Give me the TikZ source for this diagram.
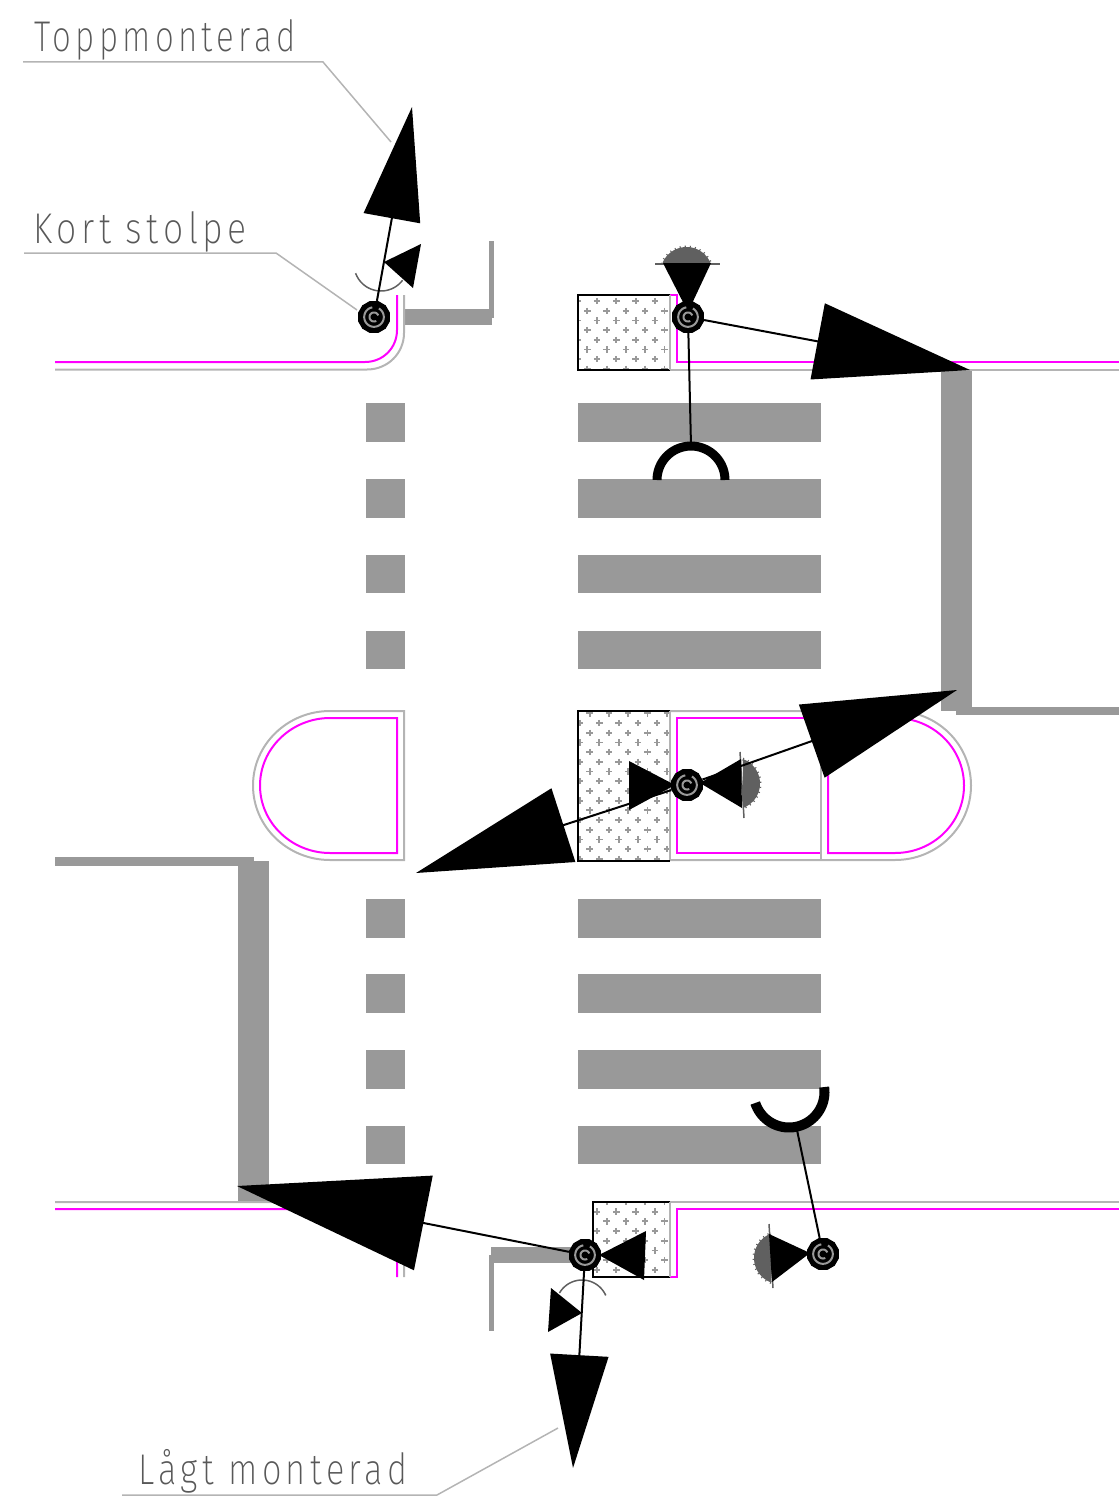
\documentclass[tikz,border=0pt]{standalone}
\usepackage{fontspec}
\setmainfont{Fira Sans ExtraLight}[LetterSpace=13]
\usetikzlibrary{arrows.meta,shapes.geometric}
\definecolor{curb}{HTML}{B4B4B4}
\definecolor{paint}{HTML}{999999}
\definecolor{hood}{HTML}{606060}
\definecolor{mag}{HTML}{FF00FF}
\definecolor{lbl}{HTML}{585858}
\tikzset{
  curbline/.style={draw=curb,line width=2pt},
  magline/.style={draw=mag,line width=2pt},
  leader/.style={draw=curb,line width=1.5pt},
  conn/.style={draw=black,line width=2pt},
  bigtip/.style n args={2}{-{Triangle[length=#1pt,width=#2pt]}},
  lampbody/.style={regular polygon,regular polygon sides=12,fill=black,minimum size=33pt,inner sep=0pt},
  labeltext/.style={text=lbl,inner sep=0pt,anchor=base west,font=\fontsize{43pt}{43pt}\selectfont},
  hoodtick/.style={draw=hood,line width=3pt,dash pattern=on 1pt off 4pt},
}
\newcommand{\parc}[6][]{\path[#1] plot[domain=#5:#6,samples=40,smooth] ({#2+#4*cos(\x)},{#3+#4*sin(\x)});}
\newcommand{\lampring}[2]{%
  \parc[draw=paint,line width=2pt]{#1}{#2}{9.8}{-60}{260}
  \parc[draw=paint,line width=2pt]{#1}{#2}{4.5}{60}{340}}
\newcommand{\hatchfill}[6]{%
  \begin{scope}
    \clip (#1,#2) rectangle (#3,#4);
    \foreach \i in {0,...,9} \foreach \j in {-2,...,22} {
      \pgfmathsetmacro{\px}{#5+19.3*(\i-1)+(mod(\j+21,2))*9.65}
      \pgfmathsetmacro{\py}{#6+9.7*(\j-3)}
      \draw[paint,line width=1.8pt] (\px-3.2,\py) -- (\px+3.2,\py) (\px,\py-3.2) -- (\px,\py+3.2);
    }
  \end{scope}
  \draw[black,line width=2pt] (#3,#2) -- (#1,#2) -- (#1,#4) -- (#3,#4);}
\newcommand{\hoodshape}[5]{%
  \parc[fill=hood]{#1}{#2}{#3}{#4}{#5}
  \parc[hoodtick]{#1}{#2}{#3}{#4}{#5}}
\begin{document}
\begin{tikzpicture}[x=1pt,y=-1pt]
\useasboundingbox (0,0) rectangle (1119,1496);
% pedestrian crossing markings
\foreach \ya/\yb in {403/442,479/518,555/593,631/669,899/938,974/1013,1050/1089,1126/1164}{
  \fill[paint] (366,\ya) rectangle (405,\yb);
  \fill[paint] (577.5,\ya) rectangle (821,\yb);
}
% stop lines
\fill[paint] (404,309) rectangle (492,325);
\fill[paint] (489,241) rectangle (494,318);
\fill[paint] (491,1247) rectangle (575,1263);
\fill[paint] (489,1255) rectangle (494,1331);
\fill[paint] (941,370) rectangle (971.5,711);
\fill[paint] (956,706.5) rectangle (1119,714.5);
\fill[paint] (238,861) rectangle (268.5,1202);
\fill[paint] (55,857) rectangle (254,865.5);
% curbs
\draw[curbline] (55,369.5) -- (367,369.5) .. controls (388,369.5) and (404,353) .. (404,333) -- (404,295);
\draw[magline] (55,362) -- (365,362) .. controls (383,362) and (397,348) .. (397,330) -- (397,295);
\draw[curbline] (670,369.5) -- (1119,369.5);
\draw[magline] (670,295) -- (677,295) -- (677,362) -- (1119,362);
\draw[curbline] (404,711) -- (330,711) .. controls (288,711) and (253,744) .. (253,785.5) .. controls (253,827) and (288,860) .. (330,860) -- (404,860) -- cycle;
\draw[magline] (397,718) -- (330,718) .. controls (292,718) and (260,748) .. (260,785.5) .. controls (260,823) and (292,853) .. (330,853) -- (397,853) -- cycle;
\draw[curbline] (670,711) -- (895,711) .. controls (937,711) and (971,744) .. (971,785.5) .. controls (971,827) and (937,860) .. (895,860) -- (670,860);
\draw[curbline] (821,711) -- (821,860);
\draw[magline] (820,718) -- (677,718) -- (677,853) -- (820,853);
\draw[magline] (828,718) -- (895,718) .. controls (933,718) and (964,748) .. (964,785.5) .. controls (964,823) and (933,853) .. (895,853) -- (828,853) -- cycle;
\draw[curbline] (55,1202) -- (367,1202) .. controls (388,1202) and (404,1219) .. (404,1240) -- (404,1277);
\draw[magline] (55,1209) -- (365,1209) .. controls (383,1209) and (397,1223) .. (397,1241) -- (397,1277);
\draw[curbline] (670,1202) -- (1119,1202);
\draw[magline] (670,1277) -- (677,1277) -- (677,1209) -- (1119,1209);
% hatched refuges
\hatchfill{578}{295}{670}{370}{597}{301}
\hatchfill{577.5}{711}{670}{861}{580}{723}
\hatchfill{593}{1202}{670}{1277}{597}{1231}
\draw[curbline] (670,295) -- (670,370);
\draw[curbline] (670,711) -- (670,860);
\draw[curbline] (670,1202) -- (670,1277);
% leaders and labels
\draw[leader] (23,62) -- (323,62) -- (391,142);
\draw[leader] (24,253) -- (276,253) -- (357,310);
\draw[leader] (122,1495) -- (437,1495) -- (558,1428);
\node[labeltext,xscale=.77] (lt) at (34,52) {Toppmonterad};
\node[labeltext,xscale=.83] (lk) at (33,243) {Kort stolpe};
\node[labeltext,xscale=.80] (ll) at (138,1484) {Lågt monterad};
% small signal heads
\parc[draw=hood,line width=1.5pt]{381}{264}{27}{37}{160}
\parc[draw=hood,line width=1.5pt]{582}{1306}{26}{210}{336}
\fill (384,262) -- (421,244) -- (413,288) -- cycle;
\fill (551,1288) -- (548,1332) -- (582,1313) -- cycle;
\fill (599,1255) -- (646,1231) -- (644,1280) -- cycle;
% signal heads
\hoodshape{686.5}{273}{26}{200}{340}
\draw[draw=hood,line width=1.5pt] (655,264) -- (720,264);
\fill (663,263) -- (711,263) -- (688,312) -- cycle;
\hoodshape{734}{783.5}{26}{-70}{70}
\draw[draw=hood,line width=1.5pt] (740,752) -- (744,818);
\fill (700,783) -- (741,759) -- (742,808) -- cycle;
\fill (629,761) -- (629,810) -- (675,785) -- cycle;
\hoodshape{780}{1258}{26}{110}{250}
\draw[draw=hood,line width=1.5pt] (769,1224) -- (773,1288);
\fill (810,1253) -- (769,1234) -- (772,1282) -- cycle;
% lamp posts
\node[lampbody] (lampA) at (374,317) {};
\node[lampbody] (lampB) at (688,317) {};
\node[lampbody] (lampC) at (687,785) {};
\node[lampbody] (lampD) at (585,1255) {};
\node[lampbody] (lampE) at (823,1254) {};
% connector ends
\coordinate (tipA) at (412,107);
\coordinate (tipB) at (970,370);
\coordinate (tipCa) at (957,690);
\coordinate (tipCb) at (416,873);
\coordinate (tipDa) at (237,1186);
\coordinate (tipDb) at (573,1468);
\coordinate (archB) at (691,446);
\coordinate (archE) at (797,1130);
% connectors
\draw[conn,bigtip={113}{57}] (lampA) -- (tipA);
\draw[conn,bigtip={155}{77}] (lampB) -- (tipB);
\draw[conn,bigtip={154}{77}] (lampC) -- (tipCa);
\draw[conn,bigtip={155}{77}] (lampC) -- (tipCb);
\draw[conn,bigtip={190}{96}] (lampD) -- (tipDa);
\draw[conn,bigtip={113}{58}] (lampD) -- (tipDb);
\draw[conn] (lampB) -- (archB);
\draw[conn] (lampE) -- (archE);
% push-button arcs
\parc[draw=black,line width=9pt]{691}{480}{34}{180}{360}
\parc[draw=black,line width=10pt]{789}{1092}{35.5}{-8}{162}
\lampring{374}{317}
\lampring{688}{317}
\lampring{687}{785}
\lampring{585}{1255}
\lampring{823}{1254}
\end{tikzpicture}
\end{document}
